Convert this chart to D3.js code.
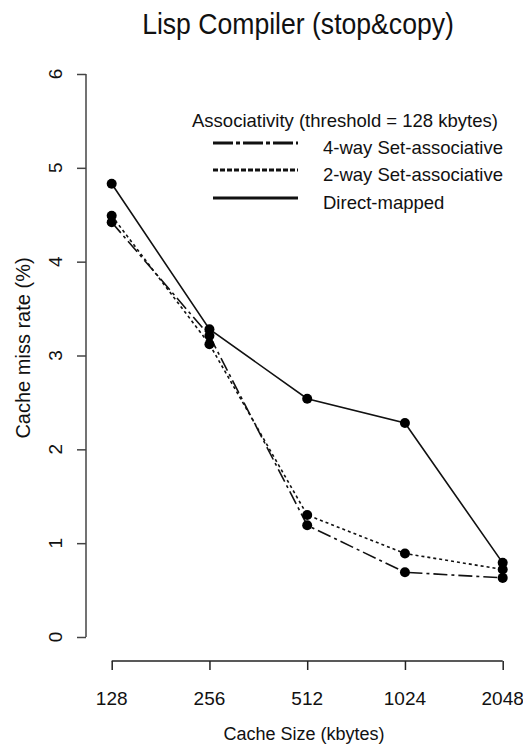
<!DOCTYPE html>
<html>
<head>
<meta charset="utf-8">
<script src="https://cdn.jsdelivr.net/npm/d3@7"></script>
<style>
  body { margin: 0; background: #fff; }
  text { font-family: "Liberation Sans", Arial, Helvetica, sans-serif; fill: #111; }
</style>
</head>
<body>
<svg id="chart" width="523" height="752"></svg>
<script>
// Data
var cacheSizes = ["128", "256", "512", "1024", "2048"];
var directMapped = [4.83, 3.28, 2.54, 2.28, 0.79];
var twoWay = [4.49, 3.12, 1.30, 0.89, 0.72];
var fourWay = [4.42, 3.21, 1.19, 0.69, 0.63];
var yTicks = [0, 1, 2, 3, 4, 5, 6];

var series = [
  { name: "4-way Set-associative", values: fourWay, dash: "14,4,3,4", legendDash: "20,3,4,3" },
  { name: "2-way Set-associative", values: twoWay, dash: "3,3", legendDash: "5,2" },
  { name: "Direct-mapped", values: directMapped, dash: null, legendDash: null }
];

var svg = d3.select("#chart");

var x = d3.scalePoint().domain(cacheSizes).range([111.7, 502.7]);
var y = d3.scaleLinear().domain([0, 6]).range([637, 74]);

// Title
svg.append("text")
  .attr("x", 298).attr("y", 34)
  .attr("text-anchor", "middle")
  .attr("transform", "translate(298,34) scale(0.95,1.05) translate(-298,-34)")
  .style("font-size", "28px")
  .text("Lisp Compiler (stop&copy)");

// Y axis (R style, detached)
var yAxis = svg.append("g")
  .attr("transform", "translate(86,0)")
  .call(d3.axisLeft(y).tickValues(yTicks).tickSize(9).tickFormat(""));
yAxis.select(".domain").attr("d", "M0," + y(0) + "V" + y(6)).attr("stroke", "#444").attr("stroke-width", 1.5);
yAxis.selectAll(".tick line").attr("stroke", "#444").attr("stroke-width", 1.5);

svg.selectAll(".ylab")
  .data(yTicks)
  .enter().append("text")
  .attr("class", "ylab")
  .attr("transform", function(d) { return "translate(62," + y(d) + ") rotate(-90)"; })
  .attr("text-anchor", "middle")
  .style("font-size", "19px")
  .text(function(d) { return d; });

svg.append("text")
  .attr("transform", "translate(30,348) rotate(-90)")
  .attr("text-anchor", "middle")
  .style("font-size", "20px")
  .text("Cache miss rate (%)");

// X axis
var xAxis = svg.append("g")
  .attr("transform", "translate(0,661)")
  .call(d3.axisBottom(x).tickSize(9).tickFormat(""));
xAxis.select(".domain").attr("d", "M" + x("128") + ",0H" + x("2048")).attr("stroke", "#222").attr("stroke-width", 1.5);
xAxis.selectAll(".tick line").attr("stroke", "#222").attr("stroke-width", 1.5);

svg.selectAll(".xlab")
  .data(cacheSizes)
  .enter().append("text")
  .attr("class", "xlab")
  .attr("x", function(d) { return x(d); })
  .attr("y", 705)
  .attr("text-anchor", "middle")
  .style("font-size", "19px")
  .text(function(d) { return d; });

svg.append("text")
  .attr("x", 304).attr("y", 740)
  .attr("text-anchor", "middle")
  .style("font-size", "18px")
  .text("Cache Size (kbytes)");

// Lines and points
var line = d3.line()
  .x(function(d, i) { return x(cacheSizes[i]); })
  .y(function(d) { return y(d); });

series.forEach(function(s) {
  svg.append("path")
    .datum(s.values)
    .attr("d", line)
    .attr("fill", "none")
    .attr("stroke", "#111")
    .attr("stroke-width", 1.6)
    .attr("stroke-dasharray", s.dash);

  svg.selectAll(null)
    .data(s.values)
    .enter().append("circle")
    .attr("cx", function(d, i) { return x(cacheSizes[i]); })
    .attr("cy", function(d) { return y(d); })
    .attr("r", 5)
    .attr("fill", "#000");
});

// Legend
svg.append("text")
  .attr("x", 192).attr("y", 127)
  .style("font-size", "18.5px")
  .text("Associativity (threshold = 128 kbytes)");

var legendRows = [143, 170, 198];
series.forEach(function(s, i) {
  svg.append("line")
    .attr("x1", 213).attr("x2", 298)
    .attr("y1", legendRows[i]).attr("y2", legendRows[i])
    .attr("stroke", "#111")
    .attr("stroke-width", 3)
    .attr("stroke-dasharray", s.legendDash);
  svg.append("text")
    .attr("x", 323).attr("y", legendRows[i] + 11)
    .style("font-size", "18.5px")
    .text(s.name);
});
</script>
</body>
</html>
